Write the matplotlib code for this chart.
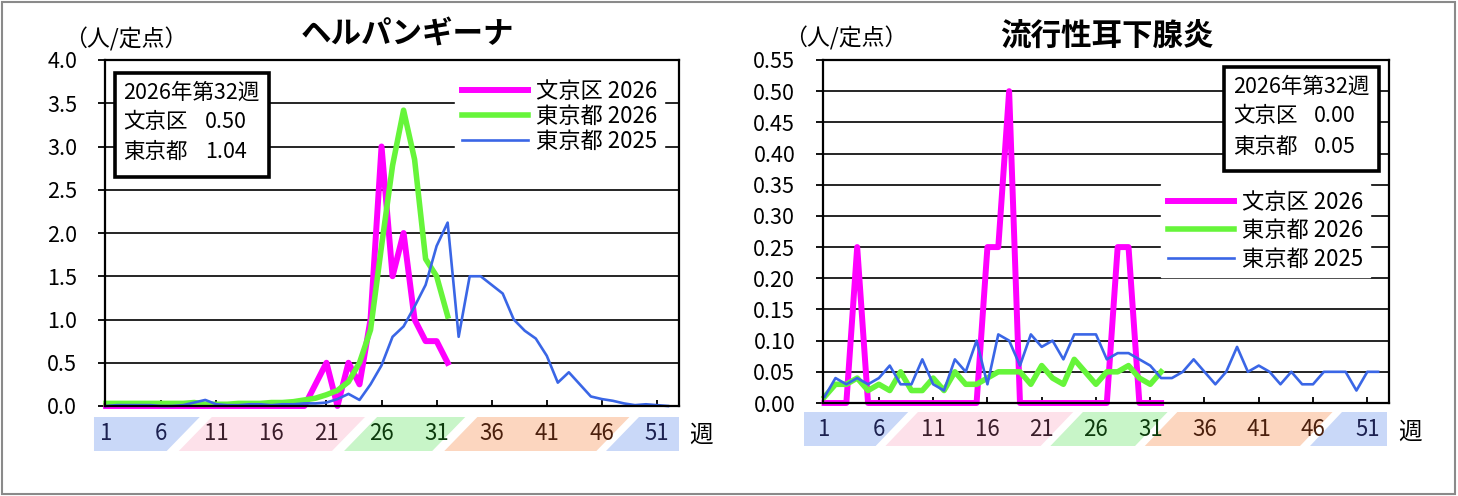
import matplotlib.pyplot as plt
from matplotlib.patches import Rectangle, Polygon
from matplotlib.transforms import blended_transform_factory

# =====================================================================
# Fonts / figure size
# =====================================================================
plt.rcParams['font.family'] = ['Noto Sans CJK JP', 'DejaVu Sans']
FIG_W, FIG_H = 1458, 496

# =====================================================================
# Data
# =====================================================================
weeks_2026 = list(range(1, 33))
weeks_2025 = list(range(1, 53))

herp_bunkyo_2026 = [0, 0, 0, 0, 0, 0, 0, 0, 0, 0, 0, 0, 0, 0, 0, 0, 0, 0,
                    0, 0.25, 0.5, 0, 0.5, 0.25, 1.0, 3.0, 1.5, 2.0, 1.0, 0.75, 0.75, 0.5]
herp_tokyo_2026 = [0.03, 0.03, 0.03, 0.03, 0.03, 0.03, 0.03, 0.03, 0.04, 0.02, 0.02, 0.02,
                   0.03, 0.03, 0.03, 0.04, 0.04, 0.05, 0.07, 0.09, 0.13, 0.18, 0.28, 0.5,
                   0.88, 1.85, 2.78, 3.42, 2.85, 1.7, 1.5, 1.04]
herp_tokyo_2025 = [0.0, 0.01, 0.01, 0.01, 0.01, 0.0, 0.0, 0.01, 0.04, 0.07, 0.02, 0.01,
                   0.01, 0.02, 0.02, 0.01, 0.02, 0.02, 0.03, 0.03, 0.04, 0.08, 0.14, 0.07,
                   0.25, 0.47, 0.8, 0.92, 1.15, 1.4, 1.85, 2.12, 0.8, 1.5, 1.5, 1.4,
                   1.3, 1.0, 0.87, 0.78, 0.58, 0.27, 0.39, 0.25, 0.11, 0.08, 0.06, 0.03,
                   0.01, 0.02, 0.01, 0.0]

mumps_bunkyo_2026 = [0, 0, 0, 0.25, 0, 0, 0, 0, 0, 0, 0, 0, 0, 0, 0, 0.25,
                     0.25, 0.5, 0, 0, 0, 0, 0, 0, 0, 0, 0, 0.25, 0.25, 0, 0, 0]
mumps_tokyo_2026 = [0.01, 0.03, 0.03, 0.04, 0.02, 0.03, 0.02, 0.05, 0.02, 0.02, 0.04, 0.02,
                    0.05, 0.03, 0.03, 0.04, 0.05, 0.05, 0.05, 0.03, 0.06, 0.04, 0.03, 0.07,
                    0.05, 0.03, 0.05, 0.05, 0.06, 0.04, 0.03, 0.05]
mumps_tokyo_2025 = [0.01, 0.04, 0.03, 0.04, 0.03, 0.04, 0.06, 0.03, 0.03, 0.07, 0.03, 0.02,
                    0.07, 0.05, 0.10, 0.03, 0.11, 0.10, 0.06, 0.11, 0.09, 0.10, 0.07, 0.11,
                    0.11, 0.11, 0.07, 0.08, 0.08, 0.07, 0.06, 0.04, 0.04, 0.05, 0.07, 0.05,
                    0.03, 0.05, 0.09, 0.05, 0.06, 0.05, 0.03, 0.05, 0.03, 0.03, 0.05, 0.05,
                    0.05, 0.02, 0.05, 0.05]

series_labels = ["文京区 2026", "東京都 2026", "東京都 2025"]
week_ticks = [1, 6, 11, 16, 21, 26, 31, 36, 41, 46, 51]
week_tick_colors = ['#1c2150', '#1c2150', '#3b1e2b', '#3b1e2b', '#3b1e2b',
                    '#0d3b0d', '#0d3b0d', '#4b200d', '#4b200d', '#4b200d', '#1c2150']

# season bands: (left week, right week) along the top edge
band_colors = ['#c9d8f8', '#fde1ea', '#c8f5c8', '#fcd6bf', '#c9d8f8']
bands_left = [(-0.1, 9.5), (10.6, 24.5), (25.6, 33.6), (34.7, 48.5), (49.4, 53.0)]
bands_right = [(-0.9, 8.7), (9.6, 23.9), (24.8, 32.6), (33.5, 47.8), (48.7, 52.8)]

COLOR_BUNKYO = '#ff00ff'
COLOR_TOKYO = '#66f53a'
COLOR_2025 = '#3a66e6'


def fx(px):
  return px / FIG_W


def fy(py):
  return 1 - py / FIG_H


def draw_bands(ax, bands, h_px, top_off):
  trans = blended_transform_factory(ax.transData, ax.transAxes)
  yt = -top_off / h_px
  yb = -(top_off + 34) / h_px
  slant = 3.0
  for i, ((l, r), c) in enumerate(zip(bands, band_colors)):
    bl = l if i == 0 else l - slant
    br = r if i == len(bands) - 1 else r - slant
    poly = Polygon([(l, yt), (r, yt), (br, yb), (bl, yb)], closed=True,
                   facecolor=c, edgecolor='none', transform=trans, clip_on=False)
    ax.add_patch(poly)
  ym = (yt + yb) / 2
  for w, c in zip(week_ticks, week_tick_colors):
    ax.text(w, ym, str(w), transform=trans, ha='center', va='center',
            fontsize=16, color=c)


def draw_panel(rect, title, title_xy, ymax, ystep, yfmt, bunkyo, tokyo, tokyo_prev,
               bands, band_off, xlim, legend_anchor, legend_spacing, unit_xy, week_xy):
  fig = plt.gcf()
  ax = fig.add_axes(rect)
  h_px = rect[3] * FIG_H

  ax.plot(weeks_2026, bunkyo, color=COLOR_BUNKYO, lw=4.3, zorder=3,
          solid_joinstyle='round', clip_on=False, label=series_labels[0])
  ax.plot(weeks_2026, tokyo, color=COLOR_TOKYO, lw=4.0, zorder=4,
          solid_joinstyle='round', clip_on=False, label=series_labels[1])
  ax.plot(weeks_2025, tokyo_prev, color=COLOR_2025, lw=1.9, zorder=5,
          solid_joinstyle='round', clip_on=False, label=series_labels[2])

  ax.set_xlim(*xlim)
  ax.set_ylim(0, ymax)
  n = int(round(ymax / ystep))
  yticks = [i * ystep for i in range(n + 1)]
  ax.set_yticks(yticks)
  ax.set_yticklabels([yfmt % v for v in yticks], fontsize=15.5)
  for v in yticks[1:-1]:
    ax.axhline(v, color='black', lw=1.2, zorder=1)

  ax.set_xticks(week_ticks[1:])
  ax.set_xticklabels([])
  ax.tick_params(axis='x', direction='in', length=4, width=1.3)
  ax.tick_params(axis='y', direction='out', length=5, width=1.3, pad=15)
  for s in ax.spines.values():
    s.set_linewidth(1.6)
    s.set_color('black')
  ax.spines['left'].set_zorder(6)
  ax.spines['bottom'].set_zorder(6)

  draw_bands(ax, bands, h_px, band_off)

  leg = ax.legend(loc='upper left', bbox_to_anchor=legend_anchor,
                  bbox_transform=fig.transFigure, fontsize=16, frameon=True,
                  fancybox=False, edgecolor='white', facecolor='white', framealpha=1,
                  handlelength=3.0, handletextpad=0.35, labelspacing=legend_spacing,
                  borderpad=0.3, borderaxespad=0)
  leg.set_zorder(7)

  fig.text(fx(title_xy[0]), fy(title_xy[1]), title, ha='center', va='center',
           fontsize=22, fontweight='bold')
  fig.text(fx(unit_xy[0]), fy(unit_xy[1]), "（人/定点）", ha='left', va='center',
           fontsize=16.5)
  fig.text(fx(week_xy[0]), fy(week_xy[1]), "週", ha='center', va='center',
           fontsize=17)
  return ax


def info_box(ax, box, lines_y, label_x, value_x, bunkyo_val, tokyo_val):
  fig = plt.gcf()
  x0, y0, x1, y1 = box
  r = Rectangle((fx(x0), fy(y1)), fx(x1) - fx(x0), fy(y0) - fy(y1),
                transform=fig.transFigure, facecolor='white', edgecolor='black',
                lw=2.6, zorder=8, clip_on=False)
  ax.add_patch(r)
  kw = dict(transform=fig.transFigure, ha='left', va='center', fontsize=15.5, zorder=9)
  ax.text(fx(label_x), fy(lines_y[0]), "2026年第32週", **kw)
  ax.text(fx(label_x), fy(lines_y[1]), "文京区", **kw)
  ax.text(fx(value_x), fy(lines_y[1]), bunkyo_val, **kw)
  ax.text(fx(label_x), fy(lines_y[2]), "東京都", **kw)
  ax.text(fx(value_x), fy(lines_y[2]), tokyo_val, **kw)


fig = plt.figure(figsize=(FIG_W / 100, FIG_H / 100), dpi=100)

# outer frame
fig.patches.append(Rectangle((fx(1.5), fy(493.5)), fx(1455) - fx(1.5), fy(1.5) - fy(493.5),
                             transform=fig.transFigure, fill=False,
                             edgecolor='#8a8a8a', lw=1.5))

# =====================================================================
# Left: herpangina
# =====================================================================
ax1 = draw_panel([fx(105), fy(406), fx(679) - fx(105), fy(60) - fy(406)],
                 "ヘルパンギーナ", (407, 35), 4.0, 0.5, '%.1f',
                 herp_bunkyo_2026, herp_tokyo_2026, herp_tokyo_2025,
                 bands_left, 11, (0.9, 53.0), (fx(455), fy(73)), 0.1,
                 (64, 39), (701, 435))
info_box(ax1, (115, 73, 269, 177), (93, 122, 152), 123, 205, "0.50", "1.04")

# =====================================================================
# Right: mumps
# =====================================================================
ax2 = draw_panel([fx(823), fy(403), fx(1389) - fx(823), fy(60) - fy(403)],
                 "流行性耳下腺炎", (1107, 37), 0.55, 0.05, '%.2f',
                 mumps_bunkyo_2026, mumps_tokyo_2026, mumps_tokyo_2025,
                 bands_right, 9, (0.85, 53.0), (fx(1161), fy(184)), 0.25,
                 (784, 38), (1410, 432))
info_box(ax2, (1224, 67, 1379, 171), (87, 116, 147), 1233, 1314, "0.00", "0.05")

fig.savefig("out.png", dpi=100)
